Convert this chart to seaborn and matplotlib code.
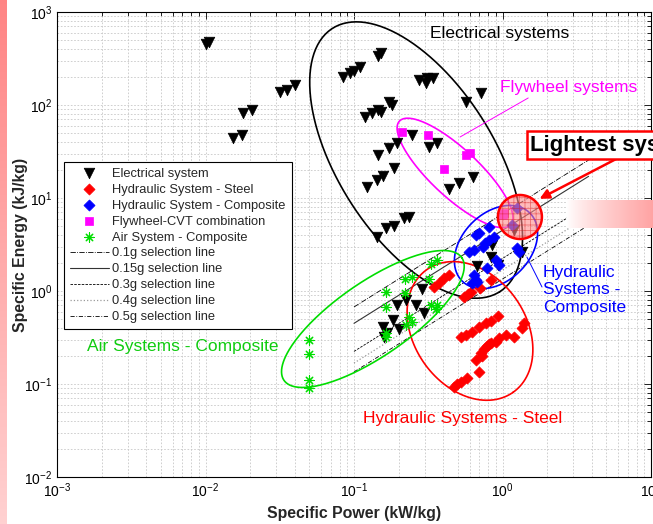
import numpy as np
import pandas as pd
import matplotlib
matplotlib.use("Agg")
import matplotlib.pyplot as plt
import seaborn as sns

# ---------------- data ----------------
elec_power = [0.0100, 0.0106, 0.0178, 0.0205, 0.0153, 0.0175, 0.0316, 0.0352, 0.0398,
              0.144, 0.153, 0.0837, 0.0933, 0.0993, 0.109, 0.275, 0.307, 0.312, 0.342, 0.720, 0.570,
              0.118, 0.133, 0.144, 0.153, 0.173, 0.179,
              0.247, 0.196, 0.322, 0.364, 0.173, 0.146,
              0.187, 0.156, 0.142, 0.123,
              0.439, 0.512, 0.636,
              0.236, 0.218, 0.187, 0.165, 0.142,
              0.289, 0.196, 0.225, 0.263, 0.298,
              0.156, 0.182, 0.202, 0.168, 0.160,
              0.676, 0.853, 0.840, 0.936, 1.36, 1.20]
elec_energy = [450, 475, 82, 88, 44, 47.5, 138, 145, 164,
               336, 362, 200, 221, 232, 256, 186, 172, 195, 195, 135, 108,
               74.3, 82, 88.3, 84, 108, 100,
               47.5, 39, 35.3, 39, 34.5, 29,
               21, 17.3, 15.6, 13.1,
               12.5, 14.5, 16.8,
               6.25, 6.1, 5.0, 4.75, 3.8,
               1.05, 0.706, 0.80, 0.706, 0.58,
               0.41, 0.488, 0.39, 0.353, 0.32,
               1.86, 3.13, 2.32, 1.9, 2.63, 4.53]

steel_power = [0.348, 0.376, 0.406, 0.439, 0.553, 0.585, 0.617, 0.709, 0.840,
               0.528, 0.570, 0.626, 0.698, 0.778, 0.840, 0.936,
               0.666, 0.720, 0.754, 0.789, 0.840, 0.908, 0.951, 1.06, 1.20, 1.36, 1.40,
               0.474, 0.528, 0.579, 0.698, 0.73, 0.81, 0.495]
steel_energy = [1.10, 1.22, 1.38, 1.49, 0.86, 0.92, 0.975, 1.08, 1.31,
                0.32, 0.336, 0.362, 0.41, 0.453, 0.475, 0.538,
                0.181, 0.215, 0.238, 0.256, 0.276, 0.283, 0.313, 0.336, 0.32, 0.40, 0.453,
                0.093, 0.105, 0.116, 0.135, 0.20, 0.268, 0.099]

comp_power = [0.666, 0.597, 0.645, 0.765, 0.815, 0.815, 0.881, 0.908, 0.951, 0.789,
              0.645, 0.666, 0.626, 0.676, 1.26, 1.30, 1.16, 1.26, 0.70, 0.74]
comp_energy = [4.0, 2.63, 2.76, 3.28, 3.53, 4.88, 3.81, 2.15, 1.9, 1.77,
               1.49, 1.31, 1.22, 1.25, 2.9, 2.63, 5.13, 7.8, 4.2, 3.0]

fly_power = [0.212, 0.317, 0.570, 0.600, 0.406, 1.03, 1.00]
fly_energy = [51, 47.5, 29, 30.5, 20.5, 6.9, 6.6]

air_power = [0.364, 0.332, 0.322, 0.222, 0.244, 0.165, 0.222, 0.165, 0.332, 0.364,
             0.359, 0.236, 0.247, 0.225, 0.165, 0.165, 0.0494, 0.0494, 0.0494, 0.0494]
air_energy = [2.15, 1.95, 1.35, 1.35, 1.42, 0.975, 0.95, 0.673, 0.706, 0.706,
              0.64, 0.525, 0.464, 0.43, 0.32, 0.353, 0.297, 0.21, 0.110, 0.0905]

sel_labels = ["0.1g selection line", "0.15g selection line", "0.3g selection line",
              "0.4g selection line", "0.5g selection line"]
sel_power = [0.1, 3.8]
sel_energy_start = [0.673, 0.449, 0.224, 0.168, 0.135]
sel_energy_end = [25.6, 17.1, 8.5, 6.4, 5.1]

series_labels = ["Electrical system", "Hydraulic System - Steel", "Hydraulic System - Composite",
                 "Flywheel-CVT combination", "Air System - Composite"]

# region ellipses: centre (power, energy), semi-axes in px, angle (deg, counter-clockwise)
ell_elec = (0.262, 25.6, 156, 78, -57.6)
ell_fly = (0.479, 18.6, 76, 24, -43)
ell_comp = (0.904, 2.97, 48, 34, 45)
ell_steel = (0.604, 0.372, 75, 56, -55)
ell_air = (0.134, 0.50, 108, 37, 34.6)
ell_light = (1.31, 6.25, 22, 22, 0)

# ---------------- style ----------------
sns.set_theme(style="white")
plt.rcParams["font.family"] = ["Liberation Sans", "DejaVu Sans"]
plt.rcParams["mathtext.fontset"] = "custom"
plt.rcParams["mathtext.rm"] = "Liberation Sans"
plt.rcParams["mathtext.it"] = "Liberation Sans:italic"
plt.rcParams["mathtext.bf"] = "Liberation Sans:bold"
plt.rcParams["axes.unicode_minus"] = False
plt.rcParams["hatch.linewidth"] = 0.5

W, H = 653, 524
fig = plt.figure(figsize=(W / 100, H / 100), dpi=100)
ax_l, ax_b, ax_w, ax_h = 57 / W, 47 / H, 594 / W, 465 / H
ax = fig.add_axes([ax_l, ax_b, ax_w, ax_h])
ax.set_xscale("log")
ax.set_yscale("log")
ax.set_xlim(1e-3, 1e1)
ax.set_ylim(1e-2, 1e3)
PX_DEC_X = ax_w * W / 4.0
PX_DEC_Y = ax_h * H / 5.0

ax.grid(True, which="both", color="#c8c8c8", linestyle=(0, (2, 2)), linewidth=0.6)
ax.set_axisbelow(True)
for s in ax.spines.values():
    s.set_color("black")
    s.set_linewidth(0.8)
ax.tick_params(which="both", direction="in", top=True, right=True, colors="black",
               labelsize=10, width=0.6)
ax.tick_params(which="major", length=5)
ax.tick_params(which="minor", length=3)

ax.set_xlabel("Specific Power (kW/kg)", fontsize=11.4, fontweight="bold", labelpad=4)
ax.set_ylabel("Specific Energy (kJ/kg)", fontsize=11.4, fontweight="bold")
ax.yaxis.set_label_coords((28 - 57) / 594, 0.5)


def ellipse_curve(spec, n=240):
    cx, cy, a, b, ang = spec
    t = np.linspace(0, 2 * np.pi, n)
    th = np.deg2rad(ang)
    dx = a * np.cos(t) * np.cos(th) - b * np.sin(t) * np.sin(th)
    dy = a * np.cos(t) * np.sin(th) + b * np.sin(t) * np.cos(th)
    return cx * 10 ** (dx / PX_DEC_X), cy * 10 ** (dy / PX_DEC_Y)


GREEN = "#00dd00"
# selection lines
sel_styles = [dict(color="black", ls="-.", lw=0.6),
              dict(color="#333333", ls="-", lw=0.8),
              dict(color="black", ls=(0, (3, 1.5)), lw=0.6),
              dict(color="#9a9a9a", ls=":", lw=0.9),
              dict(color="black", ls=(0, (5, 2, 1, 2)), lw=0.6)]
for lab, e0, e1, st in zip(sel_labels, sel_energy_start, sel_energy_end, sel_styles):
    df_line = pd.DataFrame({"P": sel_power, "E": [e0, e1]})
    sns.lineplot(data=df_line, x="P", y="E", ax=ax, estimator=None, sort=False,
                 label=lab, zorder=2, **st)

# ellipses
for spec, col in [(ell_elec, "black"), (ell_fly, "#ff00ff"), (ell_comp, "#0000ff"),
                  (ell_steel, "#ff0000"), (ell_air, GREEN)]:
    ex, ey = ellipse_curve(spec)
    ax.plot(ex, ey, color=col, lw=1.2, zorder=3)

# scatter series
df = pd.concat([
    pd.DataFrame({"P": elec_power, "E": elec_energy, "g": series_labels[0]}),
    pd.DataFrame({"P": steel_power, "E": steel_energy, "g": series_labels[1]}),
    pd.DataFrame({"P": comp_power, "E": comp_energy, "g": series_labels[2]}),
    pd.DataFrame({"P": fly_power, "E": fly_energy, "g": series_labels[3]}),
    pd.DataFrame({"P": air_power, "E": air_energy, "g": series_labels[4]}),
])
styles = {
    series_labels[0]: dict(marker="v", s=58, color="black", edgecolor="black", linewidth=0.5),
    series_labels[1]: dict(marker="D", s=32, color="#ff0000", edgecolor="#ff0000", linewidth=0.5),
    series_labels[2]: dict(marker="D", s=32, color="#0000ff", edgecolor="#0000ff", linewidth=0.5),
    series_labels[3]: dict(marker="s", s=28, color="#ff00ff", edgecolor="#ff00ff", linewidth=0.5),
    series_labels[4]: dict(marker=(8, 2, 0), s=45, color=GREEN, edgecolor=GREEN, linewidth=0.8),
}
for lab in series_labels:
    sns.scatterplot(data=df[df["g"] == lab], x="P", y="E", ax=ax, label=lab, zorder=4,
                    **styles[lab])

# lightest-systems circle
cx_, cy_ = ellipse_curve(ell_light)
ax.fill(cx_, cy_, facecolor=(1.0, 0.55, 0.55, 0.6), edgecolor=(0.85, 0.1, 0.1, 0.55),
        hatch="+++", linewidth=0, zorder=5)
ax.fill(cx_, cy_, facecolor="none", edgecolor="#ff0000", linewidth=1.8, zorder=5)

# annotations
FS = 12.5
ax.text(0.96, 594, "Electrical systems", fontsize=FS, color="black", ha="center", va="center", zorder=6)
ax.text(2.8, 156, "Flywheel systems", fontsize=FS, color="#ff00ff", ha="center", va="center", zorder=6)
ax.plot([1.49, 0.518], [119, 45.3], color="#ff00ff", lw=0.7, zorder=3)
ax.text(1.875, 1.03, "Hydraulic\nSystems -\nComposite", fontsize=FS, color="#0000ff",
        ha="left", va="center", linespacing=1.2, zorder=6)
ax.plot([1.46, 1.845], [2.32, 1.104], color="#0000ff", lw=0.7, zorder=3)
ax.text(0.00159, 0.25, "Air Systems - Composite", fontsize=FS, color="#10cc10",
        ha="left", va="center", zorder=6)
ax.text(0.542, 0.043, "Hydraulic Systems - Steel", fontsize=FS, color="#ff0000",
        ha="center", va="center", zorder=6)

# legend
h, l = ax.get_legend_handles_labels()
order = series_labels + sel_labels
hd = dict(zip(l, h))
leg = ax.legend([hd[k] for k in order], order, loc="upper left",
                bbox_to_anchor=((64 - 57) / 594, (477 - 162) / 465), borderaxespad=0,
                fontsize=9.3, frameon=True, fancybox=False, framealpha=1, edgecolor="black",
                handlelength=3.0, handletextpad=0.3, labelspacing=0.3, borderpad=0.45,
                scatterpoints=1)
leg.get_frame().set_linewidth(0.8)
leg.set_zorder(7)

# pink gradient bar (slide decoration)
bar = fig.add_axes([567 / W, 1 - 228 / H, (W - 567) / W, 28 / H], zorder=8)
grad = np.linspace(0, 1, 256) ** 0.8
img = np.ones((2, 256, 3))
img[..., 1] = 1 - 0.36 * grad
img[..., 2] = 1 - 0.36 * grad
bar.imshow(img, aspect="auto", extent=[0, 1, 0, 1])
bar.set_axis_off()

# left pink strip (slide decoration)
strip = fig.add_axes([0, 0, 6.5 / W, 1], zorder=8)
g2 = np.linspace(0, 1, 256)[:, None]
simg = np.ones((256, 2, 3))
simg[..., 1] = (0.52 + 0.30 * g2)
simg[..., 2] = (0.52 + 0.30 * g2)
strip.imshow(simg, aspect="auto", extent=[0, 1, 0, 1])
strip.set_axis_off()

# callout box + arrow
ax.annotate("", xy=(1.71, 9.5), xytext=(6.18, 27.6),
            arrowprops=dict(arrowstyle="-|>", color="#ff0000", lw=1.8, mutation_scale=14),
            zorder=9, annotation_clip=False)
fig.text(530 / W, 1 - 145 / H, "Lightest systems", fontsize=16, fontweight="bold",
         ha="left", va="center", color="black", zorder=10,
         bbox=dict(boxstyle="square,pad=0.15", facecolor="white", edgecolor="#ff0000", linewidth=1.8))

fig.savefig("out.png", dpi=100)
